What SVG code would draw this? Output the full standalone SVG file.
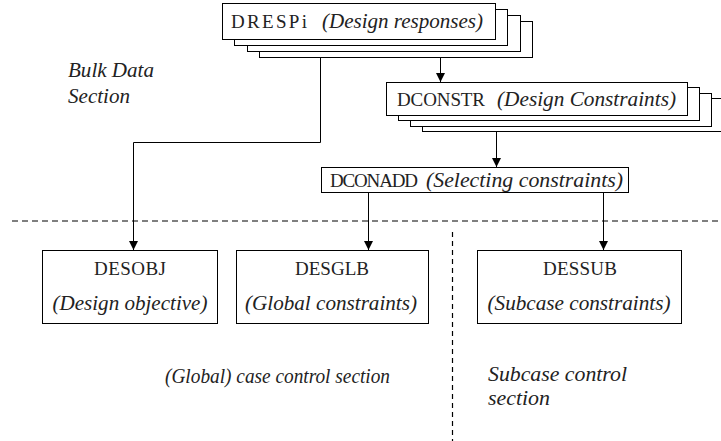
<svg xmlns="http://www.w3.org/2000/svg" width="721" height="441" viewBox="0 0 721 441">
<defs>
<style>
.box{fill:#fff;stroke:#000;stroke-width:1}
.mono{font-family:"Liberation Serif","Times New Roman",serif;font-size:19px;fill:#222}
.ital{font-family:"Liberation Serif","Times New Roman",serif;font-style:italic;font-size:20px;fill:#222}
.conn{fill:none;stroke:#000;stroke-width:1}
.dash{fill:none;stroke:#000;stroke-width:1.2;stroke-dasharray:6,4}
.vdash{fill:none;stroke:#000;stroke-width:1.2;stroke-dasharray:5,4}
</style>
<marker id="arr" viewBox="0 0 10 10" refX="10" refY="5" markerWidth="9" markerHeight="9" markerUnits="userSpaceOnUse" orient="auto">
<path d="M0,0 L10,5 L0,10 z" fill="#000"/>
</marker>
</defs>
<rect width="721" height="441" fill="#fff"/>

<g id="section-lines">
<line class="dash" x1="12" y1="221" x2="721" y2="221"/>
<line class="vdash" x1="452.5" y1="232" x2="452.5" y2="441"/>
</g>

<g id="connectors">
<polyline class="conn" points="320.5,57 320.5,142.5 133.5,142.5 133.5,250" marker-end="url(#arr)"/>
<line class="conn" x1="440.5" y1="57" x2="440.5" y2="82" marker-end="url(#arr)"/>
<line class="conn" x1="496.5" y1="132" x2="496.5" y2="167" marker-end="url(#arr)"/>
<line class="conn" x1="368.5" y1="192" x2="368.5" y2="250" marker-end="url(#arr)"/>
<line class="conn" x1="603.5" y1="192" x2="603.5" y2="250" marker-end="url(#arr)"/>
</g>

<g id="dresp">
<rect class="box" x="259.5" y="21.5" width="273" height="36"/>
<rect class="box" x="247.5" y="15.5" width="273" height="36"/>
<rect class="box" x="234.5" y="9.5" width="273" height="36"/>
<rect class="box" x="222.5" y="3.5" width="273" height="36"/>
<text class="mono" x="231" y="28" textLength="76" lengthAdjust="spacing">DRESPi</text>
<text class="ital" x="322" y="28" textLength="161" lengthAdjust="spacingAndGlyphs">(Design responses)</text>
</g>

<g id="dconstr">
<rect class="box" x="422.5" y="98.5" width="301" height="33"/>
<rect class="box" x="410.5" y="93.5" width="301" height="33"/>
<rect class="box" x="398.5" y="87.5" width="301" height="33"/>
<rect class="box" x="386.5" y="82.5" width="301" height="33"/>
<text class="mono" x="397" y="106" textLength="88" lengthAdjust="spacing">DCONSTR</text>
<text class="ital" x="497" y="106" textLength="179" lengthAdjust="spacingAndGlyphs">(Design Constraints)</text>
</g>

<g id="dconadd">
<rect class="box" x="321.5" y="167.5" width="307" height="25"/>
<text class="mono" x="330" y="187" textLength="88" lengthAdjust="spacing">DCONADD</text>
<text class="ital" x="426" y="187" textLength="197" lengthAdjust="spacingAndGlyphs">(Selecting constraints)</text>
</g>

<g id="desobj">
<rect class="box" x="42.5" y="250.5" width="175" height="73"/>
<text class="mono" x="130" y="275" text-anchor="middle" textLength="72" lengthAdjust="spacing">DESOBJ</text>
<text class="ital" x="130" y="310" text-anchor="middle" textLength="155" lengthAdjust="spacingAndGlyphs">(Design objective)</text>
</g>

<g id="desglb">
<rect class="box" x="236.5" y="250.5" width="192" height="73"/>
<text class="mono" x="332" y="275" text-anchor="middle" textLength="74" lengthAdjust="spacing">DESGLB</text>
<text class="ital" x="331" y="310" text-anchor="middle" textLength="172" lengthAdjust="spacingAndGlyphs">(Global constraints)</text>
</g>

<g id="dessub">
<rect class="box" x="477.5" y="250.5" width="204" height="73"/>
<text class="mono" x="580" y="275" text-anchor="middle" textLength="74" lengthAdjust="spacing">DESSUB</text>
<text class="ital" x="579" y="310" text-anchor="middle" textLength="183" lengthAdjust="spacingAndGlyphs">(Subcase constraints)</text>
</g>

<g id="labels">
<text class="ital" x="68" y="77" textLength="86" lengthAdjust="spacingAndGlyphs">Bulk Data</text>
<text class="ital" x="68" y="103" textLength="62" lengthAdjust="spacingAndGlyphs">Section</text>
<text class="ital" x="165" y="383" textLength="225" lengthAdjust="spacingAndGlyphs">(Global) case control section</text>
<text class="ital" x="488" y="381" textLength="139" lengthAdjust="spacingAndGlyphs">Subcase control</text>
<text class="ital" x="488" y="405" textLength="62" lengthAdjust="spacingAndGlyphs">section</text>
</g>
</svg>
